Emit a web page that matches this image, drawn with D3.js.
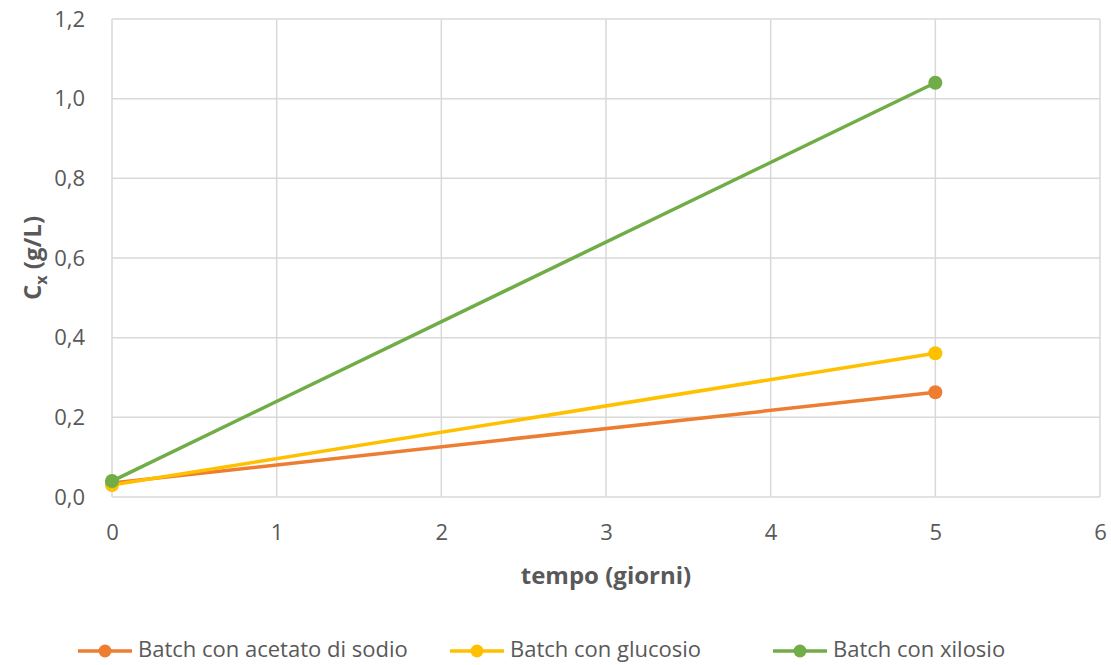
<!DOCTYPE html>
<html>
<head>
<meta charset="utf-8">
<script src="https://cdn.jsdelivr.net/npm/d3@7"></script>
<style>
  body { margin: 0; background: #fff; }
  text { font-family: "Open Sans", "Liberation Sans", sans-serif; fill: #595959; }
</style>
</head>
<body>
<div id="chart"></div>
<script type="text/javascript">

      var w = 1111, h = 665;
      var margin = {top: 19, right: 11, left: 112, bottom: 168};

      // data
      var tempo = [0, 5];
      var acetato = [0.035, 0.263];
      var glucosio = [0.030, 0.361];
      var xilosio = [0.040, 1.040];
      var seriesNames = ["Batch con acetato di sodio", "Batch con glucosio", "Batch con xilosio"];
      var colors = ["#ED7D31", "#FFC000", "#70AD47"];
      var xTicks = [0, 1, 2, 3, 4, 5, 6];
      var yTicks = [0, 0.2, 0.4, 0.6, 0.8, 1.0, 1.2];

      var series = [acetato, glucosio, xilosio].map(function(vals, i) {
        return {name: seriesNames[i], color: colors[i],
                points: vals.map(function(v, j) { return {x: tempo[j], y: v}; })};
      });

      var x = d3.scaleLinear().domain([0, 6]).range([margin.left, w - margin.right]);
      var y = d3.scaleLinear().domain([0, 1.2]).range([h - margin.bottom, margin.top]);

      var svg = d3.select("#chart").append("svg")
                  .attr("width", w).attr("height", h);

      // grid
      svg.append("g").selectAll("line").data(yTicks).enter().append("line")
         .attr("x1", x(0)).attr("x2", x(6))
         .attr("y1", function(d) { return y(d); }).attr("y2", function(d) { return y(d); })
         .attr("stroke", "#d9d9d9").attr("stroke-width", 1.5);
      svg.append("g").selectAll("line").data(xTicks).enter().append("line")
         .attr("y1", y(0)).attr("y2", y(1.2))
         .attr("x1", function(d) { return x(d); }).attr("x2", function(d) { return x(d); })
         .attr("stroke", "#d9d9d9").attr("stroke-width", 1.5);

      // axes
      var fmt = function(d) { return d3.format(".1f")(d).replace(".", ","); };
      var yAxis = svg.append("g").attr("transform", "translate(" + (x(0) - 24) + ",0)")
         .call(d3.axisLeft(y).tickValues(yTicks).tickFormat(fmt).tickSize(0));
      yAxis.select(".domain").remove();
      yAxis.selectAll("text").style("font-size", "22px").attr("fill", "#595959");

      var xAxis = svg.append("g").attr("transform", "translate(0," + (y(0) + 24) + ")")
         .call(d3.axisBottom(x).tickValues(xTicks).tickFormat(d3.format("d")).tickSize(0));
      xAxis.select(".domain").remove();
      xAxis.selectAll("text").style("font-size", "22px").attr("fill", "#595959");

      // axis titles
      svg.append("text")
         .attr("x", (x(0) + x(6)) / 2).attr("y", 584)
         .attr("text-anchor", "middle")
         .style("font-size", "24px").style("font-weight", "bold")
         .text("tempo (giorni)");

      var yt = svg.append("text")
         .attr("transform", "translate(41," + ((y(0) + y(1.2)) / 2) + ") rotate(-90)")
         .attr("text-anchor", "middle")
         .style("font-size", "24px").style("font-weight", "bold");
      yt.append("tspan").text("C");
      yt.append("tspan").attr("dy", 6).style("font-size", "16px").text("x");
      yt.append("tspan").attr("dy", -6).text(" (g/L)");

      // lines and markers
      var line = d3.line().x(function(d) { return x(d.x); }).y(function(d) { return y(d.y); });
      var g = svg.selectAll(".serie").data(series).enter().append("g").attr("class", "serie");
      g.append("path")
       .attr("d", function(d) { return line(d.points); })
       .attr("fill", "none")
       .attr("stroke", function(d) { return d.color; })
       .attr("stroke-width", 3.5);
      g.selectAll("circle").data(function(d) { return d.points.map(function(p) { return {p: p, c: d.color}; }); })
       .enter().append("circle")
       .attr("cx", function(d) { return x(d.p.x); })
       .attr("cy", function(d) { return y(d.p.y); })
       .attr("r", 7)
       .attr("fill", function(d) { return d.c; });

      // legend
      var legX = [78, 450, 773];
      var lg = svg.selectAll(".leg").data(series).enter().append("g")
                  .attr("class", "leg")
                  .attr("transform", function(d, i) { return "translate(" + legX[i] + ",651)"; });
      lg.append("line").attr("x1", 0).attr("x2", 54)
        .attr("stroke", function(d) { return d.color; }).attr("stroke-width", 3.5);
      lg.append("circle").attr("cx", 27).attr("r", 6.5)
        .attr("fill", function(d) { return d.color; });
      lg.append("text").attr("x", 60).attr("y", 6)
        .style("font-size", "22px")
        .text(function(d) { return d.name; });

</script>
</body>
</html>
